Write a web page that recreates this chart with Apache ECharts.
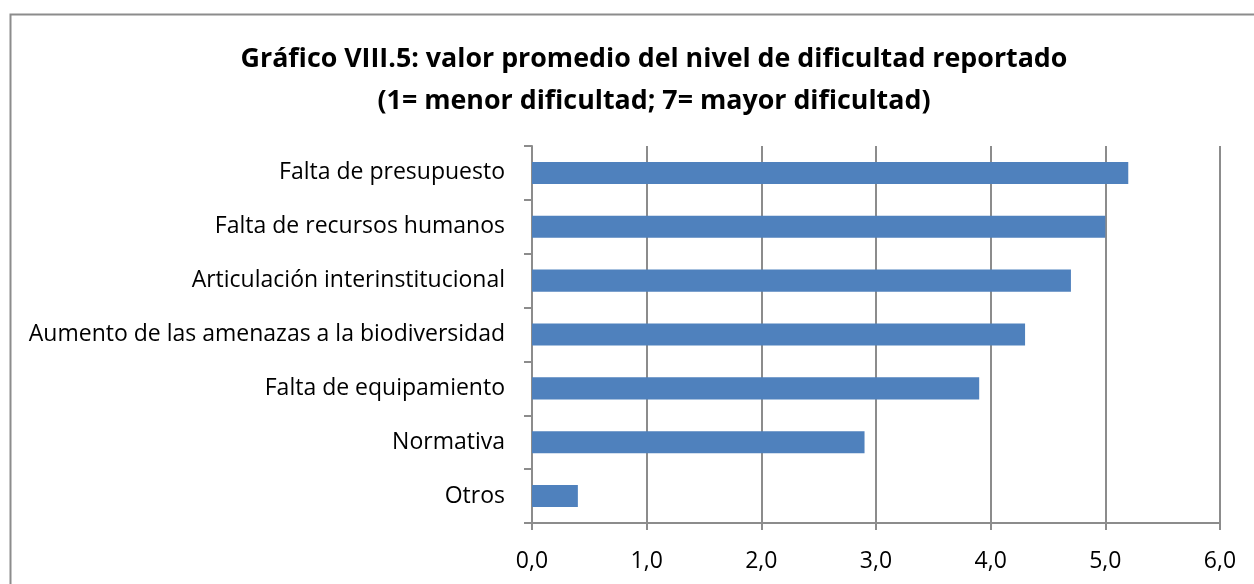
<!DOCTYPE html>
<html>
<head>
<meta charset="utf-8">
<script src="https://cdn.jsdelivr.net/npm/echarts@6/dist/echarts.min.js"></script>
<style>
    html, body { margin: 0; padding: 0; background: #fff; }
    #chart { width: 1254px; height: 584px; }
</style>
</head>
<body>
<div id="chart"></div>
<script>
// categories, bottom to top as the axis draws them
var categories = ['Otros', 'Normativa', 'Falta de equipamiento',
    'Aumento de las amenazas a la biodiversidad', 'Articulación interinstitucional',
    'Falta de recursos humanos', 'Falta de presupuesto'];
var values = [0.4, 2.9, 3.9, 4.3, 4.7, 5.0, 5.2];
var titleLines = ['Gráfico VIII.5: valor promedio del nivel de dificultad reportado',
    '(1= menor dificultad; 7= mayor dificultad)'];

var FONT = '"Open Sans", "Noto Sans", sans-serif';

var chart = echarts.init(document.getElementById('chart'));
var option = {
    animation: false,
    title: {
        text: titleLines.join('\n'),
        left: 649,
        textAlign: 'center',
        top: 33,
        textStyle: {
            fontFamily: FONT,
            fontSize: 26.8,
            fontWeight: 'bold',
            color: '#000',
            lineHeight: 42
        }
    },
    graphic: [{
        type: 'rect',
        shape: { x: 10.5, y: 14.5, width: 1300, height: 700 },
        style: { fill: null, stroke: '#8c8c8c', lineWidth: 2 },
        silent: true
    }],
    grid: {
        left: 532,
        right: 34,
        top: 146,
        bottom: 61,
        containLabel: false
    },
    xAxis: {
        type: 'value',
        min: 0,
        max: 6,
        interval: 1,
        axisLine: { show: true, lineStyle: { color: '#8c8c8c', width: 2 } },
        axisTick: { show: true, length: 7, lineStyle: { color: '#8c8c8c', width: 2 } },
        splitLine: { show: true, lineStyle: { color: '#8c8c8c', width: 2 } },
        axisLabel: {
            fontFamily: FONT,
            fontSize: 23,
            color: '#000',
            margin: 27,
            formatter: function (v) { return v.toFixed(1).replace('.', ','); }
        }
    },
    yAxis: {
        type: 'category',
        data: categories,
        axisLine: { show: true, lineStyle: { color: '#8c8c8c', width: 2 } },
        axisTick: { show: true, length: 8, lineStyle: { color: '#8c8c8c', width: 2 } },
        axisLabel: {
            fontFamily: FONT,
            fontSize: 23,
            color: '#000',
            margin: 27
        }
    },
    series: [{
        type: 'bar',
        data: values,
        barCategoryGap: '59%',
        itemStyle: { color: '#4f81bd' }
    }]
};
chart.setOption(option);
</script>
</body>
</html>
